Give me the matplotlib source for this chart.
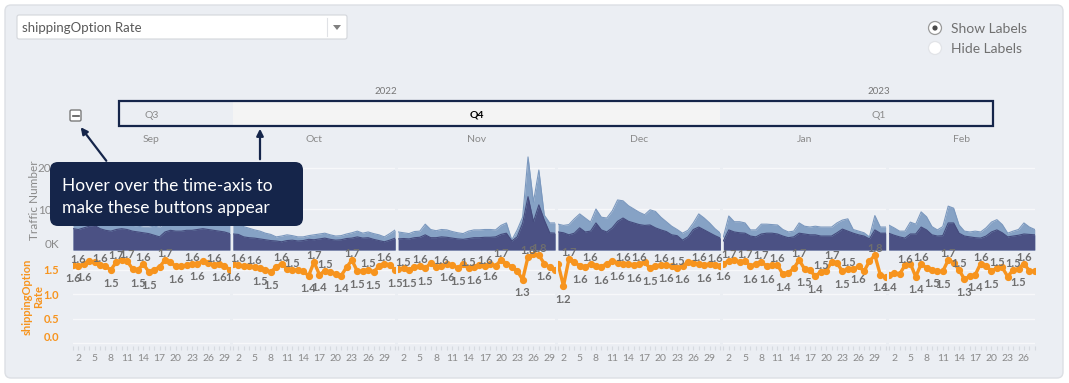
import numpy as np
import matplotlib
matplotlib.use("Agg")
import matplotlib.pyplot as plt
from matplotlib.patches import FancyBboxPatch, Rectangle, Circle, Polygon

plt.rcParams['font.family'] = ['Lato', 'DejaVu Sans']

W, H = 1069, 383

# ── data (traffic in K, rate per day) ────────────────────────────────────────
MONTHS = ["Sep", "Oct", "Nov", "Dec", "Jan", "Feb"]

SEP_TOTAL = [7.4, 7.0, 7.6, 8.4, 8.8, 7.4, 6.8, 6.4, 6.6, 7.0, 6.6, 6.0, 5.8, 5.6, 5.6,
             5.8, 5.6, 6.6, 7.0, 6.6, 6.4, 6.6, 6.8, 7.2, 7.4, 7.0, 6.8, 6.6, 6.4, 6.0]
SEP_BASE = [5.2, 5.0, 5.4, 5.8, 6.0, 5.2, 4.8, 4.6, 5.0, 5.2, 5.0, 4.6, 4.4, 4.2, 4.0,
            3.6, 3.2, 4.4, 4.8, 4.6, 4.6, 4.8, 4.8, 5.0, 5.2, 5.0, 4.8, 4.6, 4.4, 4.0]
OCT_TOTAL = [6.1, 6.7, 5.7, 5.3, 4.9, 4.6, 4.1, 3.8, 3.2, 3.4, 3.7, 3.5, 3.2, 3.2, 3.5, 3.7,
             3.9, 4.1, 3.7, 3.4, 3.5, 3.9, 4.2, 4.6, 4.1, 4.4, 4.0, 3.7, 3.2, 4.0, 4.9]
OCT_BASE = [3.9, 3.8, 3.2, 3.0, 2.9, 2.7, 2.5, 2.3, 2.2, 2.0, 2.3, 2.4, 2.2, 2.3, 2.6, 2.5,
            2.7, 2.9, 2.6, 2.4, 2.5, 2.8, 2.9, 3.2, 2.9, 3.0, 2.6, 2.3, 2.0, 2.4, 2.9]
NOV_TOTAL = [4.4, 4.2, 4.0, 4.5, 4.6, 6.3, 5.0, 4.7, 5.0, 4.9, 4.5, 4.2, 4.0, 4.6, 4.9,
             4.9, 5.0, 5.0, 4.9, 6.0, 6.6, 2.4, 4.9, 8.0, 22.7, 11.7, 19.5, 8.5, 6.6, 6.6]
NOV_BASE = [2.7, 2.8, 2.7, 3.0, 3.1, 3.7, 3.0, 3.0, 3.2, 3.1, 2.9, 2.7, 2.6, 2.8, 3.0,
            3.0, 3.1, 3.1, 3.2, 3.8, 4.1, 2.2, 3.2, 6.5, 13.0, 6.9, 11.0, 7.3, 4.2, 4.1]
DEC_TOTAL = [6.3, 6.0, 6.2, 7.6, 8.8, 7.8, 6.8, 10.0, 8.0, 7.8, 9.5, 12.2, 12.0, 10.8, 10.0, 9.2,
             8.6, 9.8, 9.4, 8.0, 6.9, 5.8, 5.0, 4.1, 4.8, 6.6, 8.8, 7.8, 6.6, 5.2, 4.1]
DEC_BASE = [4.4, 4.2, 3.7, 4.1, 5.4, 4.4, 4.6, 6.6, 4.9, 4.4, 5.4, 7.0, 7.8, 7.0, 6.6, 6.2,
            6.0, 6.1, 5.4, 4.9, 4.5, 3.7, 3.5, 2.4, 3.2, 5.0, 5.6, 4.9, 4.2, 3.5, 2.9]
JAN_TOTAL = [3.2, 8.3, 6.9, 6.9, 6.6, 4.9, 4.9, 6.3, 6.3, 6.2, 6.1, 5.0, 4.4, 4.6, 6.6, 5.8,
             5.6, 5.8, 5.6, 5.6, 5.6, 6.6, 7.3, 7.6, 5.0, 4.6, 4.2, 3.2, 8.4, 5.6, 5.6]
JAN_BASE = [2.2, 4.9, 4.4, 4.2, 4.1, 3.4, 3.2, 3.9, 4.1, 4.1, 3.9, 3.4, 3.0, 3.2, 4.1, 3.9,
            3.7, 3.7, 3.4, 3.4, 3.4, 4.2, 5.1, 4.6, 4.1, 3.7, 3.4, 2.7, 4.9, 4.1, 4.1]
FEB_TOTAL = [6.1, 5.4, 4.6, 4.6, 6.8, 6.3, 9.3, 8.1, 5.7, 4.9, 5.7, 10.7, 10.2, 6.1,
             4.6, 4.4, 4.6, 4.4, 5.4, 6.8, 7.4, 6.2, 4.1, 4.6, 5.0, 6.6, 5.6, 5.0]
FEB_BASE = [4.1, 3.6, 3.2, 2.9, 3.9, 3.9, 5.6, 4.9, 3.7, 3.4, 3.5, 6.6, 6.6, 4.1,
            3.4, 3.2, 3.0, 2.9, 3.4, 4.4, 4.9, 4.2, 3.2, 3.4, 3.6, 3.9, 3.8, 3.7]

SEP_RATE = [1.60, 1.58, 1.61, 1.68, 1.66, 1.60, 1.57, 1.50, 1.66, 1.70, 1.68, 1.52, 1.50, 1.62, 1.46,
            1.50, 1.56, 1.70, 1.66, 1.57, 1.58, 1.59, 1.62, 1.63, 1.68, 1.64, 1.60, 1.62, 1.58, 1.50]
OCT_RATE = [1.62, 1.60, 1.58, 1.57, 1.56, 1.53, 1.50, 1.46, 1.55, 1.63, 1.52, 1.50, 1.50, 1.47, 1.38, 1.66,
            1.40, 1.48, 1.45, 1.42, 1.38, 1.55, 1.70, 1.47, 1.48, 1.50, 1.46, 1.57, 1.63, 1.60, 1.50]
NOV_RATE = [1.52, 1.53, 1.50, 1.56, 1.58, 1.53, 1.64, 1.55, 1.57, 1.62, 1.60, 1.54, 1.62, 1.53, 1.56,
            1.60, 1.57, 1.63, 1.58, 1.70, 1.63, 1.56, 1.48, 1.30, 1.77, 1.82, 1.80, 1.63, 1.55, 1.49]
DEC_RATE = [1.62, 1.17, 1.72, 1.66, 1.58, 1.56, 1.62, 1.58, 1.56, 1.63, 1.68, 1.64, 1.62, 1.63, 1.60, 1.62,
            1.66, 1.53, 1.58, 1.60, 1.60, 1.57, 1.54, 1.58, 1.66, 1.64, 1.62, 1.60, 1.62, 1.60, 1.58]
JAN_RATE = [1.63, 1.68, 1.70, 1.66, 1.68, 1.58, 1.62, 1.66, 1.58, 1.59, 1.60, 1.41, 1.44, 1.53, 1.70, 1.52,
            1.49, 1.37, 1.46, 1.48, 1.66, 1.64, 1.47, 1.52, 1.51, 1.57, 1.47, 1.68, 1.80, 1.40, 1.35]
FEB_RATE = [1.40, 1.43, 1.41, 1.59, 1.63, 1.36, 1.62, 1.54, 1.50, 1.47, 1.47, 1.70, 1.65, 1.50,
            1.31, 1.37, 1.40, 1.63, 1.57, 1.48, 1.53, 1.55, 1.36, 1.50, 1.52, 1.63, 1.48, 1.47]

# days that carry a value label above / below the rate line
SEP_UP, SEP_DOWN = [2, 6, 9, 11, 14, 18, 23, 27], [1, 3, 8, 13, 15, 20, 24, 28]
OCT_UP, OCT_DOWN = [2, 5, 10, 12, 16, 18, 23, 26, 29], [1, 6, 8, 15, 17, 21, 24, 27, 31]
NOV_UP, NOV_DOWN = [2, 5, 9, 14, 17, 20, 25, 27], [3, 6, 10, 12, 15, 18, 24, 28]
DEC_UP, DEC_DOWN = [3, 7, 13, 16, 20, 23, 27, 30], [2, 5, 9, 12, 15, 18, 21, 24, 28]
JAN_UP, JAN_DOWN = [2, 5, 8, 11, 15, 19, 21, 24, 29], [1, 6, 9, 12, 16, 18, 23, 26, 30]
FEB_UP, FEB_DOWN = [4, 7, 12, 14, 18, 21, 24, 26], [1, 6, 9, 11, 15, 17, 20, 25]

TOTALS = [SEP_TOTAL, OCT_TOTAL, NOV_TOTAL, DEC_TOTAL, JAN_TOTAL, FEB_TOTAL]
BASES = [SEP_BASE, OCT_BASE, NOV_BASE, DEC_BASE, JAN_BASE, FEB_BASE]
RATES = [SEP_RATE, OCT_RATE, NOV_RATE, DEC_RATE, JAN_RATE, FEB_RATE]
UPS = [SEP_UP, OCT_UP, NOV_UP, DEC_UP, JAN_UP, FEB_UP]
DOWNS = [SEP_DOWN, OCT_DOWN, NOV_DOWN, DEC_DOWN, JAN_DOWN, FEB_DOWN]

# ── style ─────────────────────────────────────────────────────────────────────
CARD = "#ebeef3"
DARK, LIGHT = "#4b5184", "#86a2c5"
ORANGE = "#f7941e"
NAVY = "#15254a"
GREY = "#8a8a8a"
GRID = "#f7f8fa"

PX_DAY, X0, GAP = 5.41, 73.0, 3.0
TOP_T, TOP_B = 150.0, 250.0          # traffic panel (px)
RATE_T, RATE_B = 252.0, 346.0        # rate panel (px)
K_PX = 4.1                           # px per 1K traffic
R_PX, R_ZERO = 52.0, 349.0           # px per rate unit, px of rate 0


def frect(l, t, w, h):
    return [l / W, 1 - (t + h) / H, w / W, h / H]


fig = plt.figure(figsize=(W / 100, H / 100), dpi=100)
fig.patch.set_facecolor("white")

bg = fig.add_axes([0, 0, 1, 1])
bg.set_xlim(0, W); bg.set_ylim(H, 0); bg.axis("off")
bg.add_patch(FancyBboxPatch((5, 5), 1058, 373, boxstyle="round,pad=0,rounding_size=6",
                            fc=CARD, ec="#dcdfe4", lw=1))

# dropdown
bg.add_patch(FancyBboxPatch((17, 15), 330, 24, boxstyle="round,pad=0,rounding_size=2",
                            fc="white", ec="#d3d6db", lw=0.8))
bg.plot([327, 327], [18, 36], color="#e0e2e6", lw=0.8)
bg.add_patch(Polygon([[333, 25], [341, 25], [337, 30]], closed=True, fc="#808080", ec="none"))
bg.text(22, 27.5, "shippingOption Rate", fontsize=9.5, color="#5a5a5a", va="center", ha="left")

# radio buttons
bg.add_patch(Circle((935, 28), 6.5, fc="white", ec="#9a9a9a", lw=0.9))
bg.add_patch(Circle((935, 28), 2.6, fc="#4a4a4a", ec="none"))
bg.add_patch(Circle((935, 48), 6.5, fc="white", ec="#e2e4e8", lw=0.9))
bg.text(951, 29, "Show Labels", fontsize=10, color="#707070", va="center")
bg.text(951, 49, "Hide Labels", fontsize=10, color="#707070", va="center")

# month panels
lefts, widths = [], []
x = X0
for tot in TOTALS:
    w = (len(tot) - 1) * PX_DAY
    lefts.append(x); widths.append(w)
    x += w + GAP
centers = [l + w / 2 for l, w in zip(lefts, widths)]

# time axis (years / quarters / months)
bg.text(386, 92, "2022", fontsize=7, color="#777777", ha="center", va="center")
bg.text(879, 92, "2023", fontsize=7, color="#777777", ha="center", va="center")
q4_l, q4_r = lefts[1], lefts[3] + widths[3]
bg.add_patch(Rectangle((q4_l, 102), q4_r - q4_l, 24, fc="#f4f4f4", ec="none"))
bg.add_patch(Rectangle((119, 101), 993 - 119, 25, fc="none", ec=NAVY, lw=1.6))
bg.text(centers[0], 115, "Q3", fontsize=7.5, color="#8a8a8a", ha="center", va="center")
bg.text((q4_l + q4_r) / 2, 115, "Q4", fontsize=7.5, color="black", fontweight="bold",
        ha="center", va="center")
bg.text(879, 115, "Q1", fontsize=7.5, color="#8a8a8a", ha="center", va="center")
for c, m in zip(centers, MONTHS):
    bg.text(c, 140, m, fontsize=7.5, color="#8a8a8a", ha="center", va="center")

# collapse button
bg.add_patch(FancyBboxPatch((70, 110), 11, 11, boxstyle="round,pad=0,rounding_size=1.5",
                            fc="white", ec="#7a7a7a", lw=1))
bg.plot([72.5, 78.5], [115.5, 115.5], color="#555555", lw=1.2)

# axis titles
bg.text(35, 200, "Traffic Number", rotation=90, fontsize=8.5, color=GREY,
        ha="center", va="center")
bg.text(33, 297, "shippingOption\nRate", rotation=90, fontsize=8, color=ORANGE,
        fontweight="bold", ha="center", va="center", linespacing=1.05)

for i, (tot, base, rate) in enumerate(zip(TOTALS, BASES, RATES)):
    n = len(tot)
    days = np.arange(1, n + 1)

    # traffic areas
    ax = fig.add_axes(frect(lefts[i], TOP_T, widths[i], TOP_B - TOP_T))
    ax.set_facecolor("none")
    ax.fill_between(days, 0, tot, color=LIGHT, lw=0, zorder=2)
    ax.plot(days, tot, color="#7b98be", lw=0.8, zorder=2)
    ax.fill_between(days, 0, base, color=DARK, lw=0, zorder=3)
    ax.plot(days, base, color="#454b7d", lw=0.8, zorder=3)
    ax.set_xlim(1, n)
    ax.set_ylim(0, (TOP_B - TOP_T) / K_PX)
    ax.set_yticks([0, 10, 20])
    ax.grid(axis="y", color=GRID, lw=1, zorder=0)
    ax.set_xticks([])
    for s in ax.spines.values():
        s.set_visible(False)
    ax.tick_params(axis="y", length=0, labelsize=8.5, labelcolor=GREY, pad=10)
    if i == 0:
        ax.set_yticklabels(["0K", "10K", "20K"])
        ax.get_yticklabels()[0].set_va("bottom")
    else:
        ax.set_yticklabels([])

    # rate line
    ar = fig.add_axes(frect(lefts[i], RATE_T, widths[i], RATE_B - RATE_T))
    ar.set_facecolor("none")
    ar.plot(days, rate, color=ORANGE, lw=2.4, marker="o", ms=4.2, zorder=3,
            solid_joinstyle="round")
    for d in UPS[i]:
        ar.annotate(f"{rate[d - 1]:.1f}", (d, rate[d - 1]), xytext=(0, 4.5),
                    textcoords="offset points", ha="center", va="center", fontsize=8,
                    color="#6e6e6e", fontweight="bold", annotation_clip=False, zorder=4)
    for d in DOWNS[i]:
        ar.annotate(f"{rate[d - 1]:.1f}", (d, rate[d - 1]), xytext=(0, -9.5),
                    textcoords="offset points", ha="center", va="center", fontsize=8,
                    color="#6e6e6e", fontweight="bold", annotation_clip=False, zorder=4)
    ar.set_xlim(1, n)
    ar.set_ylim(-(R_ZERO - RATE_B) / R_PX, (R_ZERO - RATE_T) / R_PX)
    ar.set_yticks([0, 0.5, 1.0, 1.5])
    ar.grid(axis="y", color=GRID, lw=1, zorder=0)
    ar.set_xticks(list(range(2, n + 1, 3)))
    ar.set_xticks(list(range(1, n + 1)), minor=True)
    for s in ar.spines.values():
        s.set_visible(False)
    ar.tick_params(axis="x", which="both", length=3, width=0.8, color="#d6dae0",
                   labelsize=7.5, labelcolor=GREY, pad=3)
    ar.tick_params(axis="y", length=0, labelsize=8, labelcolor=ORANGE, pad=10)
    if i == 0:
        ar.set_yticklabels(["0.0", "0.5", "1.0", "1.5"])
        ar.get_yticklabels()[0].set_va("bottom")
        for t in ar.get_yticklabels():
            t.set_fontweight("bold")
    else:
        ar.set_yticklabels([])

# callout overlay
ov = fig.add_axes([0, 0, 1, 1])
ov.set_xlim(0, W); ov.set_ylim(H, 0); ov.axis("off"); ov.patch.set_alpha(0)
ov.add_patch(FancyBboxPatch((50, 162), 253, 64, boxstyle="round,pad=0,rounding_size=8",
                            fc=NAVY, ec="none"))
ov.text(62, 186, "Hover over the time-axis to", fontsize=12.5, color="white", va="center")
ov.text(62, 208, "make these buttons appear", fontsize=12.5, color="white", va="center")
ov.annotate("", xy=(79, 125), xytext=(108, 163),
            arrowprops=dict(arrowstyle="-|>", color=NAVY, lw=1.6, mutation_scale=10))
ov.annotate("", xy=(260, 126), xytext=(260, 162),
            arrowprops=dict(arrowstyle="-|>", color=NAVY, lw=1.6, mutation_scale=10))

fig.savefig("out.png", dpi=100, facecolor="white")
